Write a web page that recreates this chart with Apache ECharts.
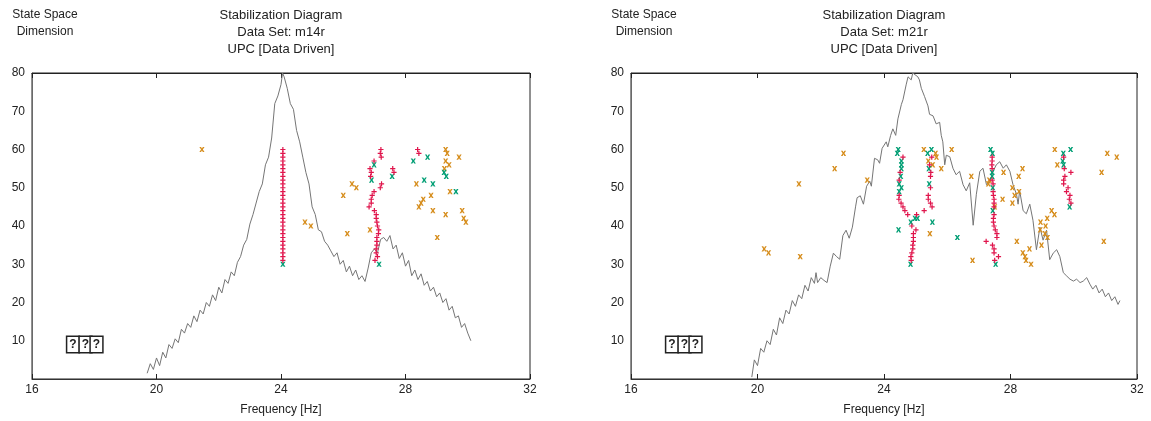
<!DOCTYPE html>
<html>
<head>
<meta charset="utf-8">
<script src="https://cdn.jsdelivr.net/npm/echarts@6/dist/echarts.min.js"></script>
<style>html,body{margin:0;padding:0;background:#fff}#c{width:1151px;height:421px}</style>
</head>
<body>
<div id="c"></div>
<script>
// ---------- DATA ----------
const xTicks = [16, 20, 24, 28, 32];
const yTicks = [10, 20, 30, 40, 50, 60, 70, 80];
const titles = [
  ['Stabilization Diagram', 'Data Set: m14r', 'UPC [Data Driven]'],
  ['Stabilization Diagram', 'Data Set: m21r', 'UPC [Data Driven]']
];
const yTitle = ['State Space', 'Dimension'];
const xTitle = 'Frequency [Hz]';
const legendText = ['?', '?', '?'];

// left panel: spectrum (scaled to state-space axis)
const leftLineFreq = [19.7,19.8,19.9,20.0,20.1,20.2,20.3,20.4,20.5,20.6,20.7,20.8,20.9,21.0,21.1,21.2,21.3,21.4,21.5,21.6,21.7,21.8,21.9,22.0,22.1,22.2,22.3,22.4,22.5,22.6,22.7,22.8,22.9,23.0,23.1,23.2,23.3,23.4,23.5,23.6,23.7,23.8,23.9,24.0,24.05,24.1,24.2,24.3,24.4,24.5,24.6,24.7,24.8,24.9,25.0,25.1,25.2,25.3,25.4,25.5,25.6,25.7,25.8,25.9,26.0,26.1,26.2,26.3,26.4,26.5,26.6,26.7,26.8,26.9,27.0,27.1,27.2,27.3,27.4,27.5,27.6,27.7,27.8,27.9,28.0,28.1,28.2,28.3,28.4,28.5,28.6,28.7,28.8,28.9,29.0,29.1,29.2,29.3,29.4,29.5,29.6,29.7,29.8,29.9,30.0,30.1];
const leftLineVal = [1.5,4,2.5,5.5,3.5,7,5.5,9,8,10.5,9.5,13,12,14.5,13.5,16.5,15,18,17,20,19,22,20.5,24,22.5,26,25,28,27,30.5,32,35,36.5,40.5,43,46,49,51,56,58,63,72,74,77,80,79,76,72,70.5,65,62,58,54,51,45,43,39,38.5,36,35,33.5,32,33,30,31,28,29.5,27,28.5,26,27,25.5,29,33,34,33,36.5,37,36,37.5,34,35,31.5,33,29.5,31,27,28.5,26,27.5,24.5,25.5,23,24,21.5,22.5,20,21,18,19,16,16.5,13.5,14.5,12,10];

const leftRed = [[24.06,31],[24.06,32],[24.06,33],[24.06,34],[24.06,35],[24.06,36],[24.06,37],[24.06,38],[24.06,39],[24.06,40],[24.06,41],[24.06,42],[24.06,43],[24.06,44],[24.06,45],[24.06,46],[24.06,47],[24.06,48],[24.06,49],[24.06,50],[24.06,51],[24.06,52],[24.06,53],[24.06,54],[24.06,55],[24.06,56],[24.06,57],[24.06,58],[24.06,59],[24.06,60],
  [27.21,60],[27.19,59],[27.22,58],[26.99,57],[26.86,55],[26.9,54],[26.88,53],[27.23,51],[27.19,50],[26.99,49],[26.93,48],[26.9,47],[26.9,46],[26.83,45],[27.0,44],[27.06,43],[27.06,42],[27.08,41],[27.1,40],[27.14,39],[27.13,38],[27.08,37],[27.08,36],[27.08,35],[27.06,34],[27.06,33],[27.1,32],[27.02,31],
  [27.59,55],[27.63,54],[28.39,60],[28.43,59]];
const leftGreen = [[24.06,30],[27.15,30],[26.99,56],[26.91,52],[27.57,53],[28.25,57],[28.71,58],[28.6,52],[28.88,51],[29.24,54],[29.31,53],[29.62,49]];
const leftOrange = [[21.46,60],[24.77,41],[24.96,40],[29.29,60],[29.34,59],[29.72,58],[29.29,57],[29.4,56],[29.25,55],[28.35,51],[29.43,49],[28.82,48],[28.57,47],[28.5,46],[28.43,45],[28.88,44],[29.29,43],[29.82,44],[29.87,42],[29.94,41],[29.02,37],[26.28,51],[26.42,50],[26.0,48],[26.86,39],[26.13,38]];

// right panel
const rightLineFreq = [19.82,19.9,20.0,20.1,20.2,20.3,20.4,20.5,20.6,20.7,20.8,20.9,21.0,21.1,21.2,21.3,21.4,21.5,21.6,21.7,21.8,21.85,21.9,22.0,22.1,22.2,22.3,22.4,22.5,22.6,22.7,22.8,22.9,23.0,23.1,23.15,23.25,23.35,23.45,23.55,23.6,23.7,23.8,23.86,23.94,24.07,24.12,24.21,24.28,24.37,24.44,24.55,24.6,24.7,24.76,24.86,24.91,24.97,25.07,25.12,25.18,25.28,25.39,25.44,25.55,25.65,25.76,25.81,25.86,25.92,25.97,26.08,26.18,26.28,26.39,26.5,26.6,26.71,26.82,26.92,27.03,27.13,27.24,27.35,27.45,27.55,27.66,27.77,27.87,27.98,28.08,28.19,28.24,28.29,28.4,28.5,28.61,28.71,28.82,28.93,29.03,29.14,29.24,29.35,29.46,29.56,29.67,29.78,29.88,29.99,30.09,30.2,30.3,30.41,30.51,30.6,30.7,30.8,30.9,31.0,31.1,31.2,31.3,31.4,31.46];
const rightLineVal = [0.5,5,3.5,8,7,10,9,13,11.5,16,14.5,18,17,20.5,19,22,21,24.5,23,26.5,25,27.8,25.2,26.5,25.8,25.2,29.5,32.9,32,31.3,37.5,38.9,36.8,39.7,45,47.4,47.9,45.7,50.4,51.7,50.4,57.7,57.3,56.4,60.3,62,60.7,63.7,65.4,63.7,68,71.8,73,76.9,79,78.2,80,80,79,78.2,76,73.9,71.4,69.2,68.8,66.7,67.1,63.7,62,56,58.5,58.1,55.1,53.4,54.3,50.8,49.2,51.3,40.2,48.3,54.3,55.1,50.8,51.7,54.3,56,56.8,55.1,56,54.3,50.8,48.3,45.7,49.2,44,43.2,45.7,41.5,33.8,39.7,36.3,38.9,31.2,32.9,33.8,32,27.8,26.9,26.1,25.6,26.1,25.2,25.6,26.5,24.8,23.5,24.5,22.5,23.5,21.5,22.5,20.5,21.5,19.5,20.5];

const rightRed = [[24.6,58],[24.51,54],[24.48,52],[24.48,48],[24.47,47],[24.54,46],[24.6,45],[24.66,44],[24.75,43],[25.03,43],[24.88,40],[25.01,39],[24.93,38],[24.93,37],[24.93,36],[24.91,35],[24.91,34],[24.88,33],[24.85,32],[24.86,31],[25.27,44],
  [25.51,58],[25.44,56],[25.48,54],[25.47,53],[25.47,50],[25.4,48],[25.4,47],[25.47,46],[25.52,45],
  [27.42,58],[27.42,57],[27.41,56],[27.42,55],[27.42,52],[27.45,51],[27.45,49],[27.46,48],[27.48,47],[27.48,46],[27.48,45],[27.48,43],[27.46,42],[27.46,41],[27.48,40],[27.52,39],[27.57,38],[27.57,37],[27.23,36],[27.43,35],[27.48,34],[27.48,33],[27.62,32],[27.5,31],
  [29.68,58],[29.7,55],[29.91,54],[29.72,53],[29.68,52],[29.68,51],[29.82,50],[29.77,49],[29.88,48],[29.86,47],[29.91,46]];
const rightGreen = [[24.45,60],[24.42,59],[24.55,57],[24.55,56],[24.55,55],[24.53,53],[24.48,51],[24.55,50],[24.48,49],[24.46,39],[24.85,41],[24.98,42],[25.06,42],[24.84,30],[25.5,60],[25.38,59],[25.42,55],[25.43,51],[25.53,41],
  [27.37,60],[27.43,59],[27.42,54],[27.42,53],[27.44,50],[27.44,44],[26.32,37],[27.53,30],[29.9,60],[29.67,59],[29.65,57],[29.68,56],[29.87,45]];
const rightOrange = [[22.72,59],[22.44,55],[21.31,51],[23.47,52],[20.21,34],[20.35,33],[21.35,32],[25.26,60],[25.63,59],[25.4,57],[25.54,56],[25.66,58],[25.81,55],[25.45,38],[26.14,60],[26.76,53],[29.4,60],[31.06,59],[31.36,58],[29.48,56],[30.88,54],[28.38,55],[28.26,53],[27.78,54],[27.33,52],[27.3,51],[28.06,50],[28.27,49],[28.13,48],[27.75,47],[28.06,46],[27.5,45],[29.3,44],[29.39,43],[29.16,42],[28.95,41],[29.11,40],[28.94,39],[29.09,38],[29.17,37],[28.2,36],[28.98,35],[28.6,34],[28.39,33],[28.46,32],[28.49,31],[28.65,30],[26.8,31],[30.95,36]];

// ---------- CHART ----------
const FONT = 'Liberation Sans, Arial, Helvetica, sans-serif';
const PLUS = 'path://M2,0H3.2V2H5.2V3.2H3.2V5.2H2V3.2H0V2H2Z';
const CROSS = 'path://M0,0H1.7L2.6,1.6L3.5,0H5.2L3.5,2.6L5.2,5.2H3.5L2.6,3.6L1.7,5.2H0L1.7,2.6Z';
const C_RED = '#e0154c', C_GREEN = '#009e74', C_ORANGE = '#d68d1c', C_LINE = '#757575';

const panels = [
  {left: 32, width: 498, line: [leftLineFreq, leftLineVal], red: leftRed, green: leftGreen, orange: leftOrange, title: titles[0]},
  {left: 631, width: 506, line: [rightLineFreq, rightLineVal], red: rightRed, green: rightGreen, orange: rightOrange, title: titles[1]}
];
const TOP = 73, HEIGHT = 312;

const grid = [], xAxis = [], yAxis = [], series = [], graphic = [];
panels.forEach((p, i) => {
  grid.push({left: p.left, top: TOP, width: p.width, height: HEIGHT, show: true, borderColor: '#222', borderWidth: 1, backgroundColor: 'transparent'});
  xAxis.push({
    type: 'value', gridIndex: i, min: xTicks[0], max: xTicks[xTicks.length - 1], interval: xTicks[1] - xTicks[0],
    axisLine: {lineStyle: {color: '#333', width: 1}}, axisTick: {inside: true, length: 5, lineStyle: {color: '#222'}},
    axisLabel: {color: '#222', fontSize: 12, fontFamily: FONT, margin: 5},
    splitLine: {show: false},
    name: xTitle, nameLocation: 'middle', nameGap: 25, nameTextStyle: {color: '#222', fontSize: 12, fontFamily: FONT}
  });
  xAxis.push({
    type: 'value', gridIndex: i, position: 'top', min: xTicks[0], max: xTicks[xTicks.length - 1], interval: xTicks[1] - xTicks[0],
    axisLine: {lineStyle: {color: '#222', width: 1}}, axisTick: {inside: true, length: 5, lineStyle: {color: '#222'}},
    axisLabel: {show: false}, splitLine: {show: false}
  });
  yAxis.push({
    type: 'value', gridIndex: i, min: 0, max: yTicks[yTicks.length - 1], interval: yTicks[1] - yTicks[0],
    axisLine: {show: true, lineStyle: {color: '#6a6a6a', width: 1}}, axisTick: {show: false},
    axisLabel: {color: '#222', fontSize: 12, fontFamily: FONT, margin: 7, showMinLabel: false},
    splitLine: {show: false}
  });
  const xi = i * 2;
  series.push({
    type: 'line', xAxisIndex: xi, yAxisIndex: i, showSymbol: false, symbol: 'none', animation: false, z: 1,
    lineStyle: {color: C_LINE, width: 1}, clip: true,
    data: p.line[0].map((f, k) => [f, p.line[1][k]])
  });
  series.push({type: 'scatter', xAxisIndex: xi, yAxisIndex: i, symbol: CROSS, symbolSize: 5.2, z: 3, animation: false,
    itemStyle: {color: C_ORANGE, opacity: 1}, data: p.orange});
  series.push({type: 'scatter', xAxisIndex: xi, yAxisIndex: i, symbol: CROSS, symbolSize: 5.2, z: 4, animation: false,
    itemStyle: {color: C_GREEN, opacity: 1}, data: p.green});
  series.push({type: 'scatter', xAxisIndex: xi, yAxisIndex: i, symbol: PLUS, symbolSize: 5.2, z: 5, animation: false,
    itemStyle: {color: C_RED, opacity: 1}, data: p.red});

  const cx = p.left + p.width / 2;
  graphic.push({type: 'text', x: cx, y: 7, z: 10, style: {text: p.title.join('\n'), textAlign: 'center', textVerticalAlign: 'top', lineHeight: 17, fontSize: 13, fontFamily: FONT, fill: '#222'}});
  graphic.push({type: 'text', x: p.left + 13, y: 6, z: 10, style: {text: yTitle.join('\n'), textAlign: 'center', textVerticalAlign: 'top', lineHeight: 17, fontSize: 12, fontFamily: FONT, fill: '#222'}});
  const boxX = [p.left + 41, p.left + 53.5, p.left + 64.5];
  legendText.forEach((t, k) => {
    graphic.push({type: 'text', x: boxX[k], y: 337, z: 10, style: {text: t, textAlign: 'center', textVerticalAlign: 'top', fontSize: 12, fontWeight: 'bold', lineHeight: 14, fontFamily: FONT, fill: '#222', padding: [1, 2, 0, 2], borderColor: '#222', borderWidth: 1.5, backgroundColor: '#fff'}});
  });
});

const chart = echarts.init(document.getElementById('c'), null, {renderer: 'canvas'});
chart.setOption({animation: false, backgroundColor: '#fff', grid, xAxis, yAxis, series, graphic});
</script>
</body>
</html>
